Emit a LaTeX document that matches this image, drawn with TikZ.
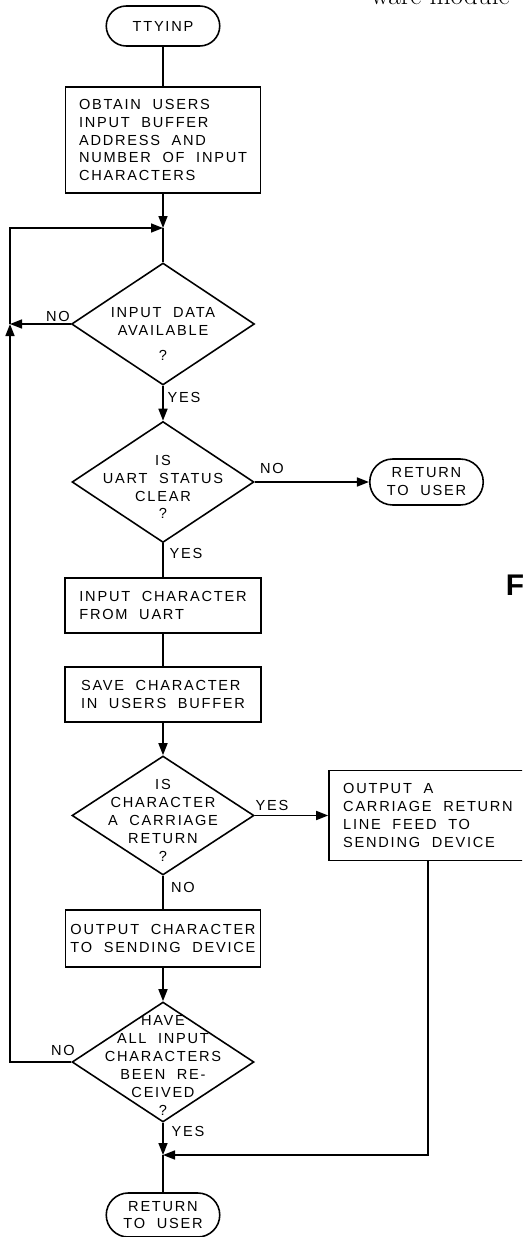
\documentclass[tikz,border=0pt]{standalone}
\usepackage{fontspec}
\setsansfont{Liberation Sans}[LetterSpace=12,WordSpace=2]
\usetikzlibrary{arrows.meta,shapes.geometric,shapes.misc}

\newcommand{\dtext}[2][0.2cm]{\smash{\raisebox{-#1}{\begin{tabular}{@{}c@{}}#2\end{tabular}}}}

\tikzset{
  chart/.style={font=\sffamily\fontsize{8.3}{10.2}\selectfont, line width=0.9pt},
  terminal/.style={draw, rounded rectangle, minimum width=2.34cm, minimum height=0.8cm, align=center, inner sep=1pt},
  process/.style={draw, rectangle, align=left, inner sep=2pt},
  decision/.style={draw, diamond, inner sep=0pt, minimum width=3.64cm, minimum height=2.42cm},
  flow/.style={-{Triangle[length=0.24cm,width=0.18cm]}},
  lbl/.style={inner sep=1pt}
}

\begin{document}
\begin{tikzpicture}[chart]
\useasboundingbox (0,0) rectangle (10.44,-24.74);
\clip (0,0) rectangle (10.44,-24.74);

\node[terminal] (start) at (3.26,-0.52) {TTYINP};
\node[process, minimum width=3.9cm, minimum height=2.12cm] (obtain) at (3.26,-2.8) {OBTAIN USERS\\INPUT BUFFER\\ADDRESS AND\\NUMBER OF INPUT\\CHARACTERS};
\coordinate (join) at (3.26,-4.56);
\coordinate (loop) at (0.2,-4.56);
\node[decision, minimum width=3.66cm, minimum height=2.44cm] (dec1) at (3.26,-6.48) {\dtext[0.3cm]{INPUT DATA\\AVAILABLE\\[4pt]?}};
\node[decision] (dec2) at (3.26,-9.64) {\dtext{IS\\UART STATUS\\CLEAR\\?}};
\node[terminal, minimum height=0.92cm] (ret1) at (8.53,-9.64) {RETURN\\TO USER};
\node[process, minimum width=3.92cm, minimum height=1.1cm] (inchar) at (3.26,-12.11) {INPUT CHARACTER\\FROM UART};
\node[process, minimum width=3.92cm, minimum height=1.1cm] (save) at (3.26,-13.89) {SAVE CHARACTER\\IN USERS BUFFER};
\node[decision, minimum height=2.38cm] (dec3) at (3.26,-16.31) {\dtext{IS\\CHARACTER\\A CARRIAGE\\RETURN\\?}};
\node[process, minimum width=3.96cm, minimum height=1.8cm] (crlf) at (8.56,-16.31) {OUTPUT A\\CARRIAGE RETURN\\LINE FEED TO\\SENDING DEVICE};
\node[process, minimum width=3.9cm, minimum height=1.14cm] (outchar) at (3.26,-18.77) {OUTPUT CHARACTER\\TO SENDING DEVICE};
\node[decision, minimum height=2.4cm] (dec4) at (3.26,-21.24) {\dtext[0.17cm]{HAVE\\ALL INPUT\\CHARACTERS\\BEEN RE-\\CEIVED\\?}};
\coordinate (merge) at (3.26,-23.1);
\node[terminal, minimum height=0.88cm] (ret2) at (3.26,-24.3) {RETURN\\TO USER};

\draw (start) -- (obtain);
\draw[flow] (obtain) -- (join);
\draw (join) -- (dec1);
\draw[flow] (dec1.west) -- (dec1.west -| loop);
\draw[flow] (dec4.west) -- (dec4.west -| loop) -- (dec1.west -| loop);
\draw[flow] (dec1.west -| loop) -- (loop) -- (join);
\draw[flow] (dec1) -- (dec2);
\draw[flow] (dec2) -- (ret1);
\draw (dec2) -- (inchar);
\draw (inchar) -- (save);
\draw[flow] (save) -- (dec3);
\draw[flow] (dec3) -- (crlf);
\draw (dec3) -- (outchar);
\draw[flow] (outchar) -- (dec4);
\draw[flow] (dec4) -- (merge);
\draw[flow] (crlf.south) -- (crlf.south |- merge) -- (merge);
\draw (merge) -- (ret2);

\node[lbl] (no1) at (1.16,-6.32) {NO};
\node[lbl] (yes1) at (3.68,-7.94) {YES};
\node[lbl] (no2) at (5.44,-9.36) {NO};
\node[lbl] (yes2) at (3.72,-11.06) {YES};
\node[lbl] (yes3) at (5.44,-16.1) {YES};
\node[lbl] (no3) at (3.66,-17.74) {NO};
\node[lbl] (no4) at (1.26,-21.0) {NO};
\node[lbl] (yes4) at (3.76,-22.62) {YES};

\node[anchor=base west, inner sep=0pt, font=\rmfamily\fontsize{15.5}{18}\selectfont] (pagetext) at (7.4,-0.1) {ware module};
\node[anchor=base west, inner sep=0pt, font=\sffamily\bfseries\fontsize{17}{20}\selectfont] (figletter) at (10.1,-11.9) {F};
\end{tikzpicture}
\end{document}
